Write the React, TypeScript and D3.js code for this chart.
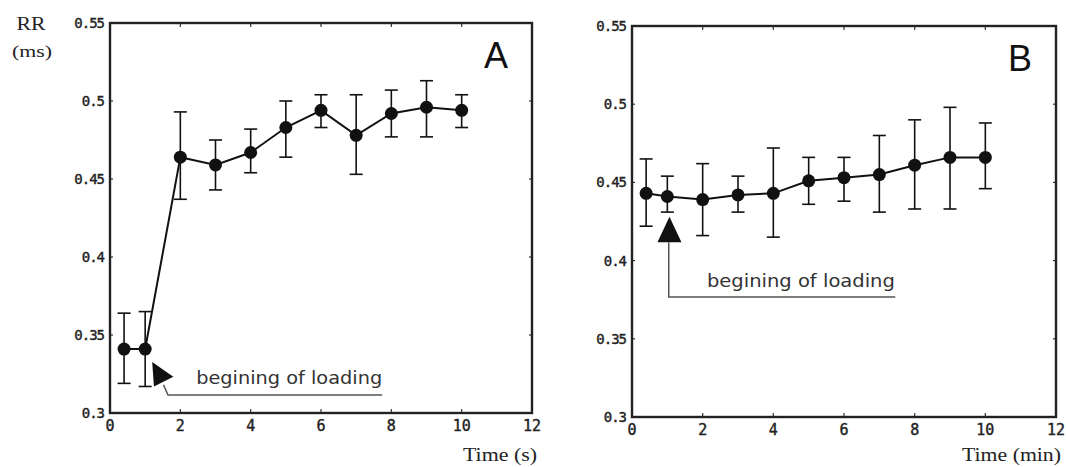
import React from "react";
import * as d3 from "d3";

const timeA = [0.4, 1, 2, 3, 4, 5, 6, 7, 8, 9, 10];
const meanA = [0.341, 0.341, 0.464, 0.459, 0.467, 0.483, 0.494, 0.478, 0.492, 0.496, 0.494];
const upperA = [0.364, 0.365, 0.493, 0.475, 0.482, 0.5, 0.504, 0.504, 0.507, 0.513, 0.504];
const lowerA = [0.319, 0.317, 0.437, 0.443, 0.454, 0.464, 0.483, 0.453, 0.477, 0.477, 0.483];

const timeB = [0.4, 1, 2, 3, 4, 5, 6, 7, 8, 9, 10];
const meanB = [0.443, 0.441, 0.439, 0.442, 0.443, 0.451, 0.453, 0.455, 0.461, 0.466, 0.466];
const upperB = [0.465, 0.454, 0.462, 0.454, 0.472, 0.466, 0.466, 0.48, 0.49, 0.498, 0.488];
const lowerB = [0.422, 0.431, 0.416, 0.431, 0.415, 0.436, 0.438, 0.431, 0.433, 0.433, 0.446];

const xTicks = [0, 2, 4, 6, 8, 10, 12];
const yTicks = [0.3, 0.35, 0.4, 0.45, 0.5, 0.55];
const yTickLabels = ["0.3", "0.35", "0.4", "0.45", "0.5", "0.55"];

const annotationText = "begining of loading";

type PanelProps = {
  x0: number; x1: number; y0: number; y1: number;
  t: number[]; m: number[]; up: number[]; lo: number[];
  letter: string; xlabel: string; xlabelWidth: number;
  annot: "A" | "B";
};

const INK = "#111";

function Panel(p: PanelProps) {
  const x = d3.scaleLinear().domain([0, 12]).range([p.x0, p.x1]);
  const y = d3.scaleLinear().domain([0.3, 0.55]).range([p.y1, p.y0]);
  const line = d3.line<number>().x((_, i) => x(p.t[i])).y((d) => y(d));
  const mono = "'DejaVu Sans Mono', monospace";
  let annot: React.ReactNode = null;
  if (p.annot === "A") {
    const tri = [
      [x(1.2), y(0.3327)],
      [x(1.8), y(0.3233)],
      [x(1.25), y(0.317)],
    ];
    annot = (
      <g>
        <path d={"M" + tri.map((q) => q.join(",")).join("L") + "Z"} fill={INK} />
        <path
          d={`M${x(1.52)},${y(0.318)}L${x(1.65)},${y(0.3115)}L${x(7.74)},${y(0.3115)}`}
          fill="none" stroke="#555" strokeWidth={1.5}
        />
        <text x={x(2.45)} y={y(0.3188)} fontFamily="'DejaVu Sans', sans-serif" fontSize={17}
          fill="#333" textLength={186} lengthAdjust="spacingAndGlyphs">{annotationText}</text>
      </g>
    );
  } else {
    const tri = [
      [x(1.06), y(0.428)],
      [x(1.06) + 12, y(0.4117)],
      [x(1.06) - 12, y(0.4117)],
    ];
    annot = (
      <g>
        <path d={"M" + tri.map((q) => q.join(",")).join("L") + "Z"} fill={INK} />
        <path
          d={`M${x(1.04)},${y(0.4117)}L${x(1.04)},${y(0.3767)}L${x(7.45)},${y(0.3767)}`}
          fill="none" stroke="#555" strokeWidth={1.5}
        />
        <text x={x(2.12)} y={y(0.3829)} fontFamily="'DejaVu Sans', sans-serif" fontSize={17}
          fill="#333" textLength={188} lengthAdjust="spacingAndGlyphs">{annotationText}</text>
      </g>
    );
  }
  return (
    <g>
      {xTicks.slice(1, -1).map((v) => (
        <g key={"xt" + v}>
          <line x1={x(v)} x2={x(v)} y1={p.y1} y2={p.y1 - 4} stroke="#333" strokeWidth={1.2} />
          <line x1={x(v)} x2={x(v)} y1={p.y0} y2={p.y0 + 4} stroke="#333" strokeWidth={1.2} />
        </g>
      ))}
      {yTicks.slice(1, -1).map((v) => (
        <g key={"yt" + v}>
          <line x1={p.x0} x2={p.x0 + 3} y1={y(v)} y2={y(v)} stroke="#333" strokeWidth={1.2} />
          <line x1={p.x1} x2={p.x1 - 3} y1={y(v)} y2={y(v)} stroke="#333" strokeWidth={1.2} />
        </g>
      ))}
      <rect x={p.x0} y={p.y0} width={p.x1 - p.x0} height={p.y1 - p.y0} fill="none" stroke="#222" strokeWidth={2.4} />
      {xTicks.map((v) => (
        <text key={"xl" + v} x={x(v)} y={p.y1 + 18} textAnchor="middle" fontFamily={mono} fontSize={15}
          fill="#222" stroke="#222" strokeWidth={0.4}>
          {String(v)}
        </text>
      ))}
      {yTicks.map((v, i) => (
        <text key={"yl" + v} x={p.x0 - 6} y={y(v) + 5} textAnchor="end" fontFamily={mono} fontSize={14}
          fill="#222" stroke="#222" strokeWidth={0.4} letterSpacing={-1}>
          {yTickLabels[i]}
        </text>
      ))}
      {p.t.map((tv, i) => (
        <g key={"eb" + i} stroke={INK} strokeWidth={1.6}>
          <line x1={x(tv)} x2={x(tv)} y1={y(p.up[i])} y2={y(p.lo[i])} />
          <line x1={x(tv) - 6.5} x2={x(tv) + 6.5} y1={y(p.up[i])} y2={y(p.up[i])} />
          <line x1={x(tv) - 6.5} x2={x(tv) + 6.5} y1={y(p.lo[i])} y2={y(p.lo[i])} />
        </g>
      ))}
      <path d={line(p.m) || ""} fill="none" stroke={INK} strokeWidth={2} />
      {p.m.map((v, i) => (
        <circle key={"pt" + i} cx={x(p.t[i])} cy={y(v)} r={6.5} fill={INK} />
      ))}
      {annot}
      <text x={p.x1 - 36} y={p.y0 + 45} textAnchor="middle" fontFamily="'Liberation Sans', Arial, sans-serif"
        fontSize={36} fill={INK}>{p.letter}</text>
      <text x={p.x1 + 5} y={461} textAnchor="end" fontFamily="'Liberation Serif', serif" fontSize={18}
        fill="#222" textLength={p.xlabelWidth} lengthAdjust="spacingAndGlyphs">{p.xlabel}</text>
    </g>
  );
}

export default function App() {
  return (
    <svg width={1066} height={467} style={{ position: "absolute", left: 0, top: 0, background: "#fff" }}>
      <rect width={1066} height={467} fill="#fff" />
      <text x={31} y={30} textAnchor="middle" fontFamily="'Liberation Serif', serif" fontSize={18} fill="#222"
        textLength={29} lengthAdjust="spacingAndGlyphs">RR</text>
      <text x={32} y={57} textAnchor="middle" fontFamily="'Liberation Serif', serif" fontSize={17} fill="#222"
        textLength={40} lengthAdjust="spacingAndGlyphs">(ms)</text>
      <Panel x0={110} x1={532} y0={23} y1={413} t={timeA} m={meanA} up={upperA} lo={lowerA}
        letter="A" xlabel="Time (s)" xlabelWidth={74} annot="A" />
      <Panel x0={632} x1={1056} y0={26} y1={417} t={timeB} m={meanB} up={upperB} lo={lowerB}
        letter="B" xlabel="Time (min)" xlabelWidth={99} annot="B" />
    </svg>
  );
}
